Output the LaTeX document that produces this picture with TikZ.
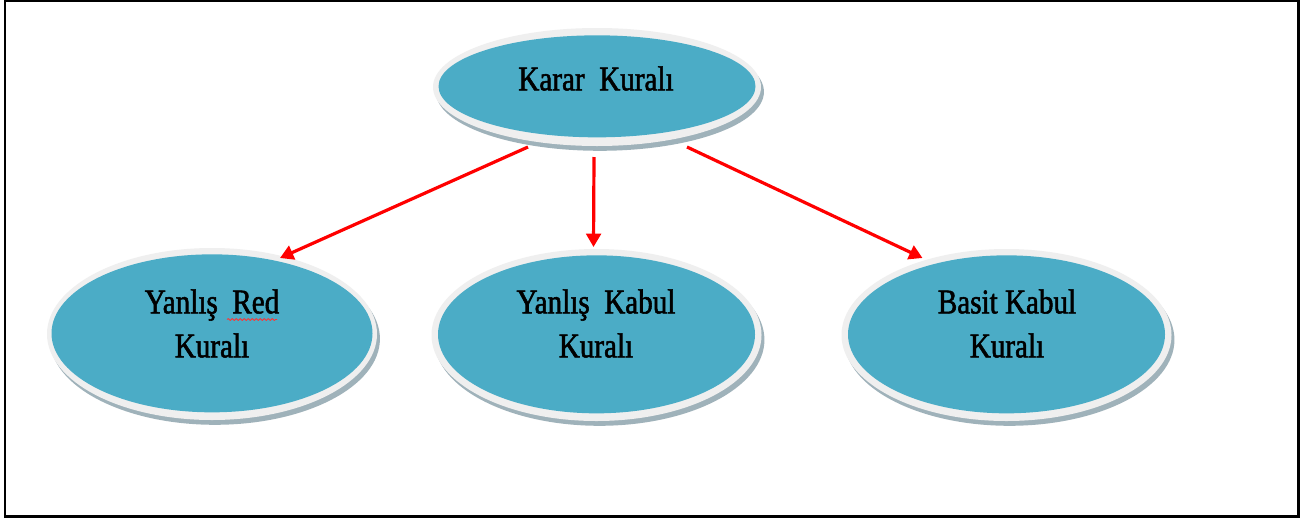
\documentclass[tikz,border=0pt]{standalone}
\usepackage{fontspec}
\newfontfamily\labelfont[FakeStretch=0.84,FakeBold=1.6]{Liberation Serif}
\usetikzlibrary{shapes.geometric,shadows,arrows.meta,calc,decorations.pathmorphing}
\definecolor{capsule}{HTML}{4BACC6}
\definecolor{rim}{HTML}{EFEFEF}
\definecolor{rimshade}{HTML}{8FA5AE}
\definecolor{linkred}{HTML}{FF0000}
\begin{document}
\begin{tikzpicture}[x=0.75pt,y=-0.75pt,
  % light rim with a soft shadow, blue body inside it
  bubble/.style n args={4}{ellipse, inner sep=0pt,
    minimum width=#1*0.75pt, minimum height=#2*0.75pt,
    fill=rim,
    drop shadow={shadow xshift=2.2pt, shadow yshift=-3.6pt, fill=rimshade, opacity=0.85},
    path picture={\fill[capsule] ([yshift=0.5pt]path picture bounding box.center)
      ellipse [x radius=#3*0.75pt, y radius=#4*0.75pt];}},
  caption/.style={font=\labelfont\fontsize{26}{33}\selectfont, align=center,
    inner sep=0pt, text=black},
  link/.style={draw=linkred, line width=2.4pt,
    -{Triangle[length=10pt, width=11pt]}}
]
\useasboundingbox (0,0) rectangle (1301,518);
\fill[white] (0,0) rectangle (1301,518);

% outer frame
\draw[line width=2.2pt] (5,1) -- (1298.5,1) -- (1298.5,516.5) -- (5,516.5) -- cycle;

% ellipses
\node[bubble={328}{118}{158.5}{51}] (top)   at (597,87)    {};
\node[bubble={330}{172}{160.5}{79}] (left)  at (212,334)   {};
\node[bubble={330}{172}{158.5}{79}] (mid)   at (596.5,335) {};
\node[bubble={330}{172}{158.5}{79}] (right) at (1006.5,335) {};

% captions
\node[caption] (tTop)   at (596,78.5)  {Karar~ Kuralı};
\node[caption] (tLeft)  at (212,323.5) {Yanlış~ Red\\Kuralı};
\node[caption] (tMid)   at (596,323.5) {Yanlış~ Kabul\\Kuralı};
\node[caption] (tRight) at (1007,323.5) {Basit Kabul\\Kuralı};

% spelling squiggle under "Red"
\draw[red!80!white, line width=0.6pt, decorate,
      decoration={snake, amplitude=0.7pt, segment length=3pt}]
  ($(tLeft.center)+(15,-4)$) -- ($(tLeft.center)+(65,-4)$);

% connectors
\draw[link] ($(top.center)+(-69,60)$) -- ($(left.center)+(68,-76)$);
\draw[link] ($(top.center)+(-3,70)$)  -- ($(mid.center)+(-3,-88)$);
\draw[link] ($(top.center)+(90,60)$)  -- ($(right.center)+(-84,-77)$);
\end{tikzpicture}
\end{document}
